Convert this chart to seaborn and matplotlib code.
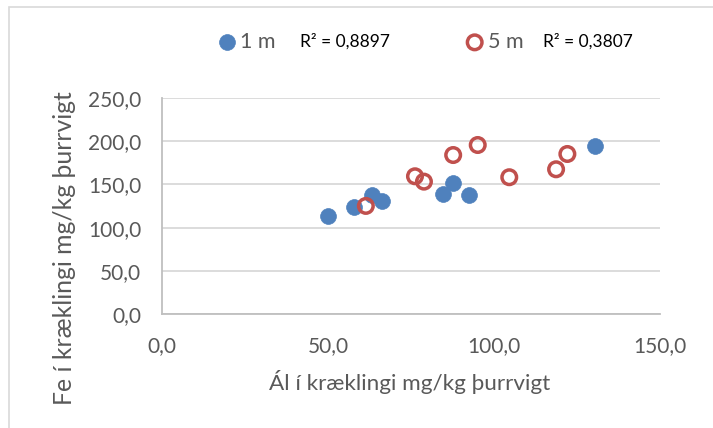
import numpy as np
import pandas as pd
import seaborn as sns
import matplotlib as mpl
import matplotlib.pyplot as plt
from matplotlib.patches import Rectangle
from matplotlib.ticker import FuncFormatter, MultipleLocator

# data (x: Ál, y: Fe, mg/kg þurrvigt)
al_1m = [50.1, 57.9, 63.2, 66.2, 84.7, 87.7, 92.5, 130.4]
fe_1m = [113.9, 123.6, 137.5, 130.9, 139.3, 151.7, 137.8, 194.8]
al_5m = [61.4, 76.2, 78.9, 87.7, 95.1, 104.6, 118.7, 122.1]
fe_5m = [125.1, 159.4, 153.2, 184.0, 195.6, 158.3, 167.5, 185.2]
series_names = ["1 m", "5 m"]
r2_labels = ["R\u00b2 = 0,8897", "R\u00b2 = 0,3807"]
x_label = "Ál í kræklingi mg/kg þurrvigt"
y_label = "Fe í kræklingi mg/kg þurrvigt"

blue = "#4F81BD"
red = "#C0504D"
grey_txt = "#595959"

sns.set_style("white")
plt.rcParams['font.family'] = ['Lato', 'DejaVu Sans']

def commaFmt(v, pos):
    return "{:.1f}".format(v).replace('.', ',')

fig = plt.figure(figsize=(7.13, 4.28), dpi=100)
ax = fig.add_axes([162/713, 1-314/428, (660-162)/713, (314-98)/428])

d1 = pd.DataFrame({'al': al_1m, 'fe': fe_1m})
d5 = pd.DataFrame({'al': al_5m, 'fe': fe_5m})
sns.scatterplot(data=d1, x='al', y='fe', ax=ax, color=blue, s=130,
                edgecolor=blue, linewidth=0.5, label=series_names[0], legend=False, zorder=3)
sns.scatterplot(data=d5, x='al', y='fe', ax=ax, facecolor='none', edgecolor=red,
                s=110, linewidth=2.5, label=series_names[1], legend=False, zorder=3)

ax.set_xlim(0, 150)
ax.set_ylim(0, 250)
ax.xaxis.set_major_locator(MultipleLocator(50))
ax.yaxis.set_major_locator(MultipleLocator(50))
ax.xaxis.set_major_formatter(FuncFormatter(commaFmt))
ax.yaxis.set_major_formatter(FuncFormatter(commaFmt))
ax.grid(axis='y', color='#D9D9D9', linewidth=1.3)
ax.set_axisbelow(True)
for s in ['top', 'right']:
    ax.spines[s].set_visible(False)
for s in ['left', 'bottom']:
    ax.spines[s].set_color('#BFBFBF')
    ax.spines[s].set_linewidth(1.3)
ax.tick_params(axis='both', length=0, labelsize=15, colors=grey_txt)
ax.tick_params(axis='y', pad=15)
ax.tick_params(axis='x', pad=16)
ax.set_xlabel(x_label, fontsize=16.2, color=grey_txt)
ax.set_ylabel(y_label, fontsize=17.8, color=grey_txt)
ax.xaxis.set_label_coords((410-162)/498, -(370-314)/216)
ax.yaxis.set_label_coords(-(162-76)/498, (314-248)/216)

# legends, one per series
handles, labels = ax.get_legend_handles_labels()
xs = [203/713, 451/713]
for i in range(2):
    leg = fig.legend([handles[i]], [labels[i]], loc='center left',
                     bbox_to_anchor=(xs[i], 1-42/428), frameon=False,
                     handletextpad=0.0, handlelength=1.2, borderpad=0,
                     fontsize=15.5, labelcolor=grey_txt)
    fig.text((300 if i == 0 else 543)/713, 1-41/428, r2_labels[i],
             fontsize=12.5, color='black', va='center', ha='left')

# chart border
fig.patches.append(Rectangle((9/713, -0.1), 1.5, 1.1-7/428, transform=fig.transFigure,
                             fill=False, edgecolor='#D9D9D9', linewidth=1.2))

fig.savefig('out.png', dpi=100)
